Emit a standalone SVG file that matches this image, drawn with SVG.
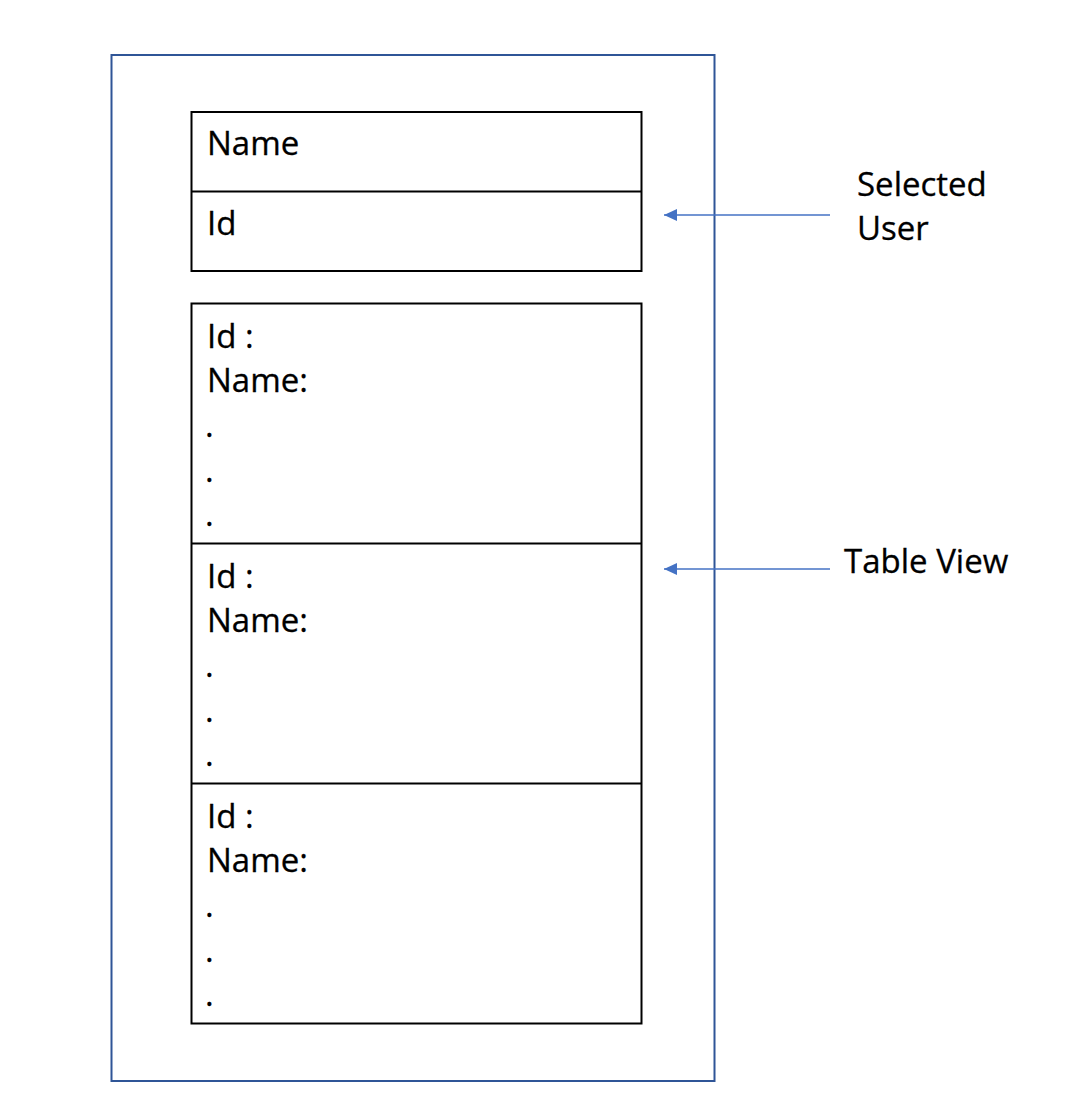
<svg xmlns="http://www.w3.org/2000/svg" width="1090" height="1118" viewBox="0 0 1090 1118">
<style>
.box{fill:#fff;stroke:#000;stroke-width:2}
.outer{fill:#fff;stroke:#2F5597;stroke-width:2}
.t{font-family:"Open Sans","Liberation Sans",sans-serif;font-size:33px;fill:#000;stroke:#000;stroke-width:0.3}
.conn{stroke:#4472C4;stroke-width:1.5;fill:none}
</style>
<defs>
<marker id="ah" markerWidth="14" markerHeight="12" refX="13" refY="6" orient="auto" markerUnits="userSpaceOnUse">
<path d="M0,0 L13,6 L0,12 Z" fill="#4472C4"/>
</marker>
</defs>
<rect width="1090" height="1118" fill="#fff"/>
<g id="screen">
<rect class="outer" x="111.5" y="55" width="603" height="1026"/>
</g>
<g id="selected-user-card">
<rect class="box" x="191.5" y="112" width="450" height="159"/>
<line x1="191.5" y1="191.5" x2="641.5" y2="191.5" stroke="#000" stroke-width="2"/>
<text class="t" x="207" y="155">Name</text>
<text class="t" x="207" y="235">Id</text>
</g>
<g id="table-view">
<rect class="box" x="191.5" y="303.5" width="450" height="720"/>
<line x1="191.5" y1="543.5" x2="641.5" y2="543.5" stroke="#000" stroke-width="2"/>
<line x1="191.5" y1="783.5" x2="641.5" y2="783.5" stroke="#000" stroke-width="2"/>
</g>
<g id="row1">
<text class="t" x="207" y="348">Id :</text>
<text class="t" x="207" y="392">Name:</text>
<text class="t" x="205" y="437">.</text>
<text class="t" x="205" y="482">.</text>
<text class="t" x="205" y="526">.</text>
</g>
<g id="row2">
<text class="t" x="207" y="588">Id :</text>
<text class="t" x="207" y="632">Name:</text>
<text class="t" x="205" y="677">.</text>
<text class="t" x="205" y="722">.</text>
<text class="t" x="205" y="766">.</text>
</g>
<g id="row3">
<text class="t" x="207" y="828">Id :</text>
<text class="t" x="207" y="872">Name:</text>
<text class="t" x="205" y="917">.</text>
<text class="t" x="205" y="962">.</text>
<text class="t" x="205" y="1006">.</text>
</g>
<g id="label-selected-user">
<text class="t" x="857" y="196">Selected</text>
<text class="t" x="857" y="240">User</text>
</g>
<g id="label-table-view">
<text class="t" x="844" y="573">Table View</text>
</g>
<g id="connectors">
<line class="conn" x1="830" y1="215" x2="664" y2="215" marker-end="url(#ah)"/>
<line class="conn" x1="830" y1="569" x2="664" y2="569" marker-end="url(#ah)"/>
</g>
</svg>
